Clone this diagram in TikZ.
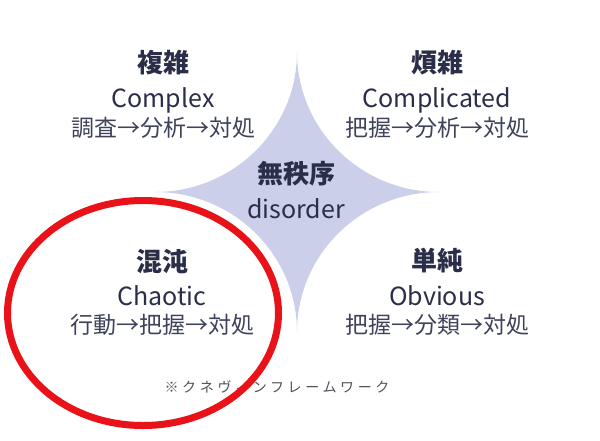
\documentclass[tikz,border=0pt]{standalone}
\usepackage{fontspec}
\setmainfont{Noto Sans CJK JP}
\usepackage{tikz}
\usetikzlibrary{positioning}
\definecolor{textnavy}{RGB}{42, 46, 72}
\definecolor{disordercolor}{RGB}{204, 207, 234}
\definecolor{markred}{RGB}{232, 18, 24}
\definecolor{notegray}{RGB}{80, 80, 90}

\begin{document}
\begin{tikzpicture}[x=1pt, y=-1pt,
    domaintitle/.style={text=textnavy, font=\fontsize{26}{26}\selectfont\bfseries, inner sep=0pt},
    domainname/.style={text=textnavy, font=\fontsize{25}{25}\selectfont, inner sep=0pt},
    domainsteps/.style={text=textnavy!90, font=\fontsize{23}{23}\selectfont, inner sep=0pt}]

        % Canvas
        \useasboundingbox[fill=white] (0,0) rectangle (600,440);

        % Disorder star
        \fill[disordercolor] (297,52) .. controls (297,129.3) and (360.6,192) .. (439,192)
            .. controls (360.6,192) and (297,254.7) .. (297,332)
            .. controls (297,254.7) and (233.4,192) .. (155,192)
            .. controls (233.4,192) and (297,129.3) .. (297,52) -- cycle;

        % Complex domain
        \node[domaintitle] (complextitle) at (163,63) {複雑};
        \node[domainname] (complexname) at (163,100) {Complex};
        \node[domainsteps] (complexsteps) at (163,128) {調査→分析→対処};

        % Complicated domain
        \node[domaintitle] (complicatedtitle) at (437,63) {煩雑};
        \node[domainname] (complicatedname) at (437,100) {Complicated};
        \node[domainsteps] (complicatedsteps) at (437,128) {把握→分析→対処};

        % Disorder
        \node[domaintitle] (disordertitle) at (296,174) {無秩序};
        \node[domainname] (disordername) at (296,209) {disorder};

        % Chaotic domain
        \node[domaintitle] (chaotictitle) at (162,262) {混沌};
        \node[domainname] (chaoticname) at (162,296) {Chaotic};
        \node[domainsteps] (chaoticsteps) at (162,325) {行動→把握→対処};

        % Obvious domain
        \node[domaintitle] (obvioustitle) at (437,261) {単純};
        \node[domainname] (obviousname) at (437,296) {Obvious};
        \node[domainsteps] (obvioussteps) at (437,325) {把握→分類→対処};

        % Footnote
        \node[text=notegray, inner sep=0pt, font=\fontsize{14}{14}\selectfont\addfontfeature{LetterSpace=26}] (cynefinnote) at (277,387) {※クネヴィンフレームワーク};

        % Highlight ring
        \draw[markred, line width=7pt] (143,313) ellipse[x radius=135.5pt, y radius=112.5pt];

    \end{tikzpicture}
\end{document}
